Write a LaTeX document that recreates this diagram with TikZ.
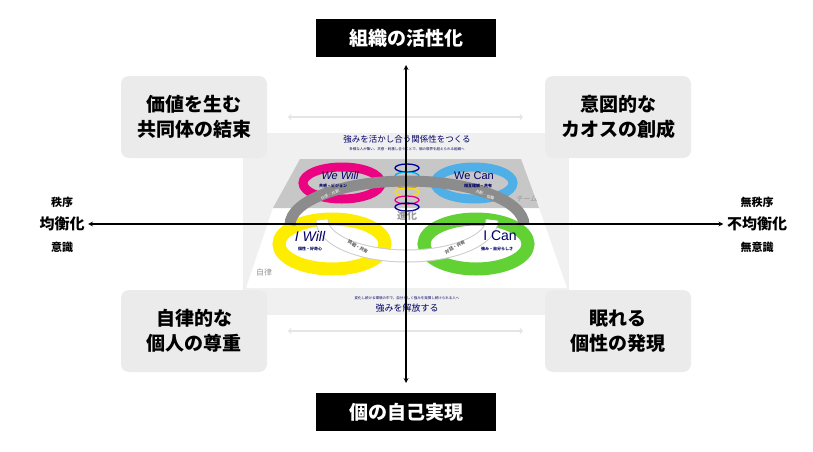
\documentclass[tikz,border=0pt]{standalone}
\usepackage{fontspec}
\setmainfont{Noto Sans CJK JP}
\newfontfamily\latinf{Liberation Sans}
\begin{document}
\begin{tikzpicture}[x=1pt,y=-1pt,
  quad/.style={fill=black!8,rounded corners=8pt,draw=none,minimum width=146pt,minimum height=82pt,align=center,font=\fontsize{19}{25}\selectfont\bfseries},
  blackbox/.style={fill=black,text=white,minimum width=180pt,minimum height=38pt,font=\fontsize{19}{22}\selectfont\bfseries},
  side/.style={font=\fontsize{11}{13}\selectfont\bfseries},
  sidebig/.style={font=\fontsize{15}{17}\selectfont\bfseries},
  ringlab/.style={text=blue!40!black,font=\latinf\fontsize{11}{12}\selectfont},
  sublab/.style={text=blue!40!black,font=\fontsize{4}{5}\selectfont\bfseries},
  navy/.style={text=blue!40!black}]
\useasboundingbox (0,0) rectangle (813,451);
\fill[white] (0,0) rectangle (813,451);
% central panel
\fill[black!6] (243,133) rectangle (569,315);
\fill[white] (246,288) -- (273,208) -- (539,208) -- (567,288) -- cycle;
\fill[black!22] (273,208) -- (300,159) -- (521,159) -- (539,208) -- cycle;
% quadrants
\node[quad] (q1) at (194,117) {価値を生む\\共同体の結束};
\node[quad] (q2) at (618,117) {意図的な\\カオスの創成};
\node[quad] (q3) at (194,331) {自律的な\\個人の尊重};
\node[quad] (q4) at (618,331) {眠れる\\個性の発現};
% faint arrows
\coordinate (fa1) at (288,117); \coordinate (fb1) at (523,117);
\coordinate (fa2) at (288,331); \coordinate (fb2) at (523,331);
\draw[black!10,line width=1.2pt,<->] (fa1) -- (fb1);
\draw[black!10,line width=1.2pt,<->] (fa2) -- (fb2);
% rings
\draw[magenta!90!red,line width=9pt] (342,183) ellipse [x radius=39,y radius=16];
\draw[cyan!80!blue!70,line width=9pt] (474,183) ellipse [x radius=39,y radius=16];
\draw[yellow!95!orange,line width=13pt] (332,244) ellipse [x radius=53,y radius=25];
\draw[green!55!olive!80,line width=13pt] (476,244) ellipse [x radius=52,y radius=25];
% spiral
\foreach \yy/\cc in {168/blue!60!black,176/cyan,184/orange,192/yellow!80!orange,200/magenta,207/blue!60!black}
  \draw[\cc,line width=1.3pt] (407,\yy) ellipse [x radius=12,y radius=4];
% arcs
\draw[black!45,line width=11pt] (290,225) arc[start angle=180,end angle=360,x radius=117,y radius=44];
\draw[black!20,line width=13pt] (322,220) arc[start angle=180,end angle=0,x radius=85,y radius=36];
\draw[white,line width=11pt] (322,220) arc[start angle=180,end angle=0,x radius=85,y radius=36];
\node[white,font=\fontsize{4}{5}\selectfont,rotate=25] at (330,195) {共感・共創};
\node[white,font=\fontsize{4}{5}\selectfont,rotate=-25] at (485,195) {共創・協働};
\node[black!60,font=\fontsize{4.5}{5}\selectfont\bfseries,rotate=-30,inner sep=0pt] at (358,247) {挑戦・共有};
\node[black!60,font=\fontsize{4.5}{5}\selectfont\bfseries,rotate=30,inner sep=0pt] at (455,247) {対話・共有};
% texts in panel
\node[navy,font=\fontsize{8.5}{9}\selectfont] (t1) at (407,139) {強みを活かし合う関係性をつくる};
\node[navy,font=\fontsize{3.5}{4}\selectfont] (t1s) at (407,149) {多様な人が集い、共感・刺激し合うことで、個の限界を超えられる組織へ};
\node[navy,font=\fontsize{3.5}{4}\selectfont] (t2s) at (407,298) {変化し続ける環境の中で、自分らしく強みを発揮し続けられる人へ};
\node[navy,font=\fontsize{9}{10}\selectfont] (t2) at (407,308) {強みを解放する};
\node[black!40,font=\fontsize{10}{11}\selectfont\bfseries] (sh) at (407,216) {進化};
\node[ringlab,font=\latinf\itshape\fontsize{11}{12}\selectfont] (ww) at (340,176) {We Will};
\node[sublab] at (333,186) {共感・ビジョン};
\node[ringlab] (wc) at (474,176) {We Can};
\node[sublab] at (478,186) {相互理解・共有};
\node[ringlab,font=\latinf\itshape\fontsize{14}{15}\selectfont,inner sep=1pt] (iw) at (310,236) {I Will};
\node[sublab,inner sep=1pt] at (310,249) {個性・好奇心};
\node[ringlab,font=\latinf\fontsize{14}{15}\selectfont,inner sep=1pt] (ic) at (500,236) {I Can};
\node[sublab,inner sep=1pt] at (497,249) {強み・自分らしさ};
\node[black!40,font=\fontsize{7}{8}\selectfont] at (527,199) {チーム};
\node[black!40,font=\fontsize{8}{9}\selectfont] at (264,272) {自律};
% black boxes
\node[blackbox] (top) at (406,38) {組織の活性化};
\node[blackbox] (bot) at (406,412) {個の自己実現};
% side labels
\node[side] (l1) at (62,202) {秩序};
\node[sidebig] (l2) at (62,224) {均衡化};
\node[side] (l3) at (62,247) {意識};
\node[side] (r1) at (757,202) {無秩序};
\node[sidebig] (r2) at (757,224) {不均衡化};
\node[side] (r3) at (757,247) {無意識};
% axes
\coordinate (vt) at (406,65); \coordinate (vb) at (406,383);
\draw[line width=1.2pt,<->,>=stealth] (vt) -- (vb);
\draw[line width=1.2pt,<->,>=stealth] (l2.east) -- (r2.west);
\end{tikzpicture}
\end{document}
